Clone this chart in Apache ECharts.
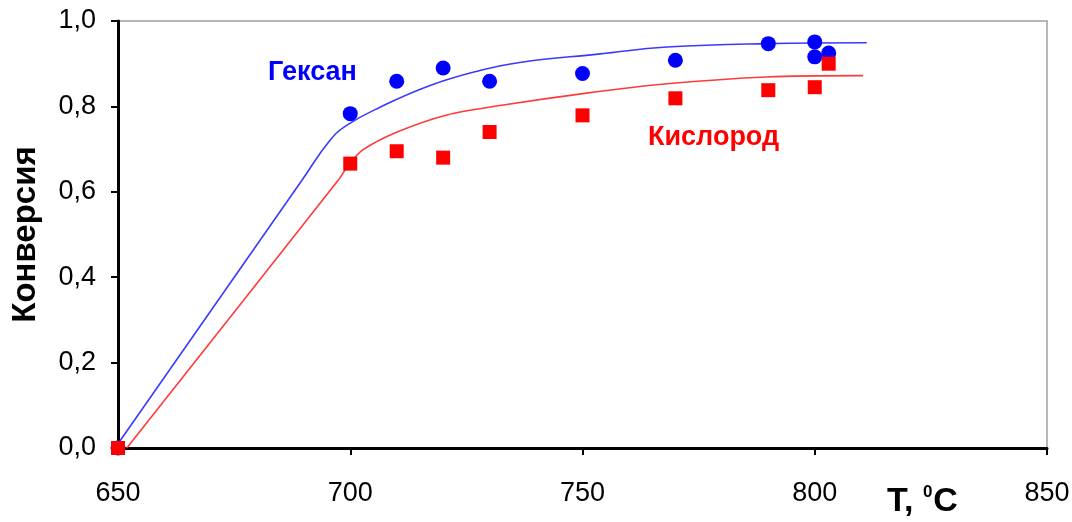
<!DOCTYPE html>
<html><head><meta charset="utf-8">
<script src="https://cdn.jsdelivr.net/npm/echarts@6/dist/echarts.min.js"></script>
<style>html,body{margin:0;padding:0;background:#fff}#c{width:1072px;height:522px}</style>
</head><body><div id="c"></div>
<script>
const hexanePoints = [[650,0],[700,0.783],[710,0.859],[720,0.890],[730,0.859],[750,0.877],[770,0.908],[790,0.947],[800,0.951],[800,0.916],[803,0.925]];
const oxygenPoints = [[650,0],[700,0.666],[710,0.695],[720,0.680],[730,0.740],[750,0.779],[770,0.819],[790,0.838],[800,0.845],[803,0.900]];
const hexaneCurve = [[650,0.01],[689.6,0.627],[695.6,0.72],[699.3,0.756],[706.4,0.798],[717.2,0.849],[727.9,0.884],[736.5,0.903],[753.8,0.923],[768.2,0.939],[789.7,0.947],[811.2,0.949]];
const oxygenCurve = [[651.9,0],[697.4,0.627],[699.6,0.662],[702.7,0.698],[710.1,0.740],[720.8,0.780],[732.2,0.802],[750.1,0.830],[768.2,0.853],[789.7,0.869],[810.4,0.872]];
const xTicks = {min:650, max:850, interval:50};
const yTicks = {min:0, max:1, interval:0.2};
const labels = [{text:'Гексан', at:[682.3,0.880], color:'#0000ff'},{text:'Кислород', at:[764.1,0.728], color:'#ff0000'}];

const chart = echarts.init(document.getElementById('c'));
const font = '"Liberation Sans", Arial, sans-serif';
chart.setOption({
  animation:false,
  grid:{left:118, right:25, top:21, bottom:74, show:true, borderColor:'#a0a0a0', borderWidth:1.5, outerBoundsMode:'none', containLabel:false},
  xAxis:{type:'value', min:xTicks.min, max:xTicks.max, interval:xTicks.interval,
    axisLine:{show:true, onZero:false, lineStyle:{color:'#000', width:3}},
    axisTick:{show:true, inside:false, length:7, lineStyle:{color:'#000', width:2}},
    axisLabel:{color:'#000', fontSize:27, fontFamily:font, margin:32},
    splitLine:{show:false}},
  yAxis:{type:'value', min:yTicks.min, max:yTicks.max, interval:yTicks.interval,
    name:'Конверсия', nameLocation:'middle', nameGap:76, nameRotate:90,
    nameTextStyle:{color:'#000', fontSize:33, fontWeight:'bold', fontFamily:font},
    axisLine:{show:true, onZero:false, lineStyle:{color:'#000', width:3}},
    axisTick:{show:true, inside:false, length:7, lineStyle:{color:'#000', width:2}},
    axisLabel:{color:'#000', fontSize:27, fontFamily:font, margin:22, formatter:v=>v.toFixed(1).replace('.',',')},
    splitLine:{show:false}},
  series:[
    {type:'line', data:hexaneCurve, showSymbol:false, smooth:0.45, lineStyle:{color:'#3a3aff', width:1.6}, z:2},
    {type:'line', data:oxygenCurve, showSymbol:false, smooth:0.3, lineStyle:{color:'#ff3a3a', width:1.6}, z:2},
    {type:'scatter', data:hexanePoints, symbol:'circle', symbolSize:15, itemStyle:{color:'#0000ff', opacity:1}, z:3},
    {type:'scatter', data:oxygenPoints, symbol:'rect', symbolSize:14, itemStyle:{color:'#ff0000', opacity:1}, z:4}
  ]
});
const g = labels.map(l=>{
  const p = chart.convertToPixel({gridIndex:0}, l.at);
  return {type:'text', x:p[0], y:p[1], style:{text:l.text, fill:l.color, font:'bold 27px '+font, textVerticalAlign:'middle', textAlign:'left'}};
});
g.push({type:'text', left:887, top:484, style:{rich:{b:{fontSize:34, fontWeight:'bold', fontFamily:font, fill:'#000'}, s:{fontSize:17, fontWeight:'bold', fontFamily:font, fill:'#000', verticalAlign:'top', padding:[0,1,18,0]}}, text:'{b|T, }{s|0}{b|C}'}});
chart.setOption({graphic:g});
</script></body></html>
